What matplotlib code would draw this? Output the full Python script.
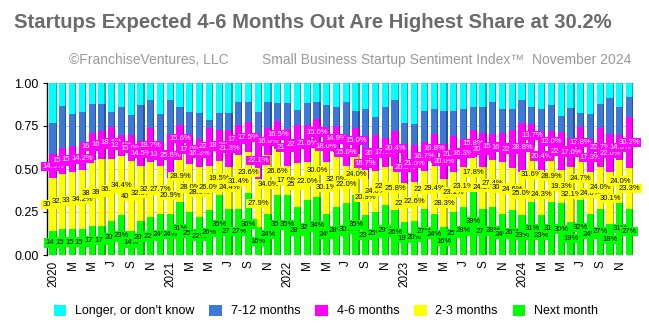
import matplotlib
matplotlib.use('Agg')
import matplotlib.pyplot as plt
from matplotlib.patches import Patch
import numpy as np

plt.rcParams['font.family'] = ['Liberation Sans', 'DejaVu Sans']

# --- Data (share of respondents, Jan 2020 onward) ---
next_month = [0.14, 0.15, 0.15, 0.15, 0.17, 0.17, 0.20, 0.23, 0.14, 0.20,
              0.22, 0.24, 0.24, 0.31, 0.25, 0.22, 0.26, 0.35, 0.27, 0.27,
              0.36, 0.16, 0.24, 0.35, 0.35, 0.28, 0.32, 0.34, 0.24, 0.28,
              0.30, 0.35, 0.23, 0.25, 0.29, 0.26, 0.19, 0.20, 0.27, 0.24,
              0.16, 0.25, 0.28, 0.39, 0.27, 0.28, 0.24, 0.26, 0.23, 0.31,
              0.23, 0.31, 0.30, 0.19, 0.32, 0.24, 0.27, 0.18, 0.31, 0.27]
two_three = [0.305, 0.322, 0.330, 0.342, 0.380, 0.390, 0.360, 0.344, 0.405, 0.320,
             0.320, 0.277, 0.209, 0.289, 0.280, 0.289, 0.260, 0.195, 0.244, 0.314,
             0.236, 0.279, 0.340, 0.266, 0.170, 0.255, 0.220, 0.300, 0.301, 0.320,
             0.220, 0.240, 0.209, 0.240, 0.220, 0.258, 0.220, 0.226, 0.220, 0.294,
             0.283, 0.231, 0.231, 0.178, 0.241, 0.274, 0.300, 0.246, 0.250, 0.316,
             0.243, 0.289, 0.193, 0.321, 0.247, 0.240, 0.240, 0.301, 0.240, 0.233]
four_six = [0.143, 0.150, 0.152, 0.142, 0.160, 0.163, 0.186, 0.124, 0.150, 0.145,
            0.197, 0.130, 0.256, 0.156, 0.170, 0.163, 0.220, 0.180, 0.213, 0.174,
            0.175, 0.221, 0.160, 0.165, 0.210, 0.220, 0.216, 0.150, 0.180, 0.149,
            0.150, 0.150, 0.187, 0.206, 0.170, 0.204, 0.200, 0.215, 0.167, 0.168,
            0.200, 0.210, 0.163, 0.158, 0.200, 0.150, 0.169, 0.220, 0.288, 0.137,
            0.204, 0.120, 0.222, 0.170, 0.178, 0.173, 0.227, 0.220, 0.148, 0.302]
seven_twelve = [0.178, 0.244, 0.188, 0.197, 0.168, 0.155, 0.085, 0.162, 0.119, 0.207,
                0.163, 0.173, 0.195, 0.105, 0.133, 0.152, 0.045, 0.099, 0.097, 0.134,
                0.121, 0.173, 0.152, 0.101, 0.152, 0.088, 0.126, 0.102, 0.149, 0.111,
                0.220, 0.100, 0.224, 0.104, 0.180, 0.178, 0.160, 0.119, 0.183, 0.148,
                0.197, 0.149, 0.176, 0.134, 0.149, 0.186, 0.141, 0.124, 0.132, 0.097,
                0.173, 0.153, 0.095, 0.175, 0.082, 0.167, 0.143, 0.214, 0.164, 0.115]
longer = [1 - a - b - c - d for a, b, c, d in
          zip(next_month, two_three, four_six, seven_twelve)]

years = ['2020', '2021', '2022', '2023', '2024']
month_marks = ['M', 'M', 'J', 'S', 'N']
tick_labels = [m for y in years for m in [y] + month_marks]

series = [
    ('Next month', next_month, '#00ff00', '#00b800', 'int'),
    ('2-3 months', two_three, '#ffff00', '#b8b800', 'dec'),
    ('4-6 months', four_six, '#ff00ff', '#b800b8', 'dec'),
    ('7-12 months', seven_twelve, '#3c78d8', '#2a5498', None),
    ("Longer, or don't know", longer, '#00ffff', '#00b8b8', None),
]

fig = plt.figure(figsize=(6.49, 3.35), dpi=100)
ax = fig.add_axes([47 / 649, 1 - 255 / 335, (634 - 47) / 649, 172 / 335])

x = np.arange(len(next_month))
bottom = np.zeros(len(x))
face_w = 0.62
side_w = 0.12
for name, vals, color, dark, fmt in series:
    vals = np.array(vals)
    ax.bar(x - side_w / 2, vals, width=face_w, bottom=bottom, color=color,
           linewidth=0, zorder=2)
    ax.bar(x + face_w / 2, vals, width=side_w, bottom=bottom, color=dark,
           linewidth=0, zorder=2)
    if fmt:
        txt_color = 'white' if color == '#ff00ff' else 'black'
        for xi, b, v in zip(x, bottom, vals):
            s = f'{v * 100:.0f}%' if fmt == 'int' else f'{v * 100:.1f}%'
            ax.text(xi, b + v / 2, s, ha='center', va='center', fontsize=5.5,
                    color=txt_color, zorder=5,
                    bbox=dict(boxstyle='square,pad=0.15', facecolor=color,
                              edgecolor='none'))
    bottom += vals

ax.set_xlim(-0.62, 59.45)
ax.set_ylim(0, 1)
ax.set_yticks([0, 0.25, 0.5, 0.75, 1.0])
ax.set_yticklabels(['0.00', '0.25', '0.50', '0.75', '1.00'], fontsize=9)
ax.set_xticks(x[::2])
ax.set_xticklabels(tick_labels, rotation=90, fontsize=8.5)
ax.tick_params(axis='x', length=0, pad=4)
ax.tick_params(axis='y', length=3, pad=3)
ax.grid(axis='y', color='#cccccc', linewidth=0.8, zorder=0)
for s in ['top', 'right', 'bottom']:
    ax.spines[s].set_visible(False)
ax.spines['left'].set_color('black')
ax.spines['left'].set_linewidth(1)

fig.text(14 / 649, 1 - 22 / 335,
         'Startups Expected 4-6 Months Out Are Highest Share at 30.2%',
         fontsize=14.6, fontweight='bold', color='#6b6b6b', va='center', ha='left')
fig.text(69 / 649, 1 - 60 / 335, '\u00a9FranchiseVentures, LLC',
         fontsize=10, color='#9a9a9a', va='center', ha='left')
fig.text(262 / 649, 1 - 60 / 335,
         'Small Business Startup Sentiment Index\u2122  November 2024',
         fontsize=10, color='#9a9a9a', va='center', ha='left')

handles = [Patch(facecolor=c, edgecolor='none', label=n)
           for n, _, c, _, _ in series[::-1]]
fig.legend(handles=handles, loc='center', bbox_to_anchor=(326 / 649, 1 - 311 / 335),
           ncol=5, frameon=False, fontsize=9, handlelength=1.0, handleheight=1.0,
           handletextpad=0.7, columnspacing=1.2)

fig.savefig('out.png', dpi=100)
